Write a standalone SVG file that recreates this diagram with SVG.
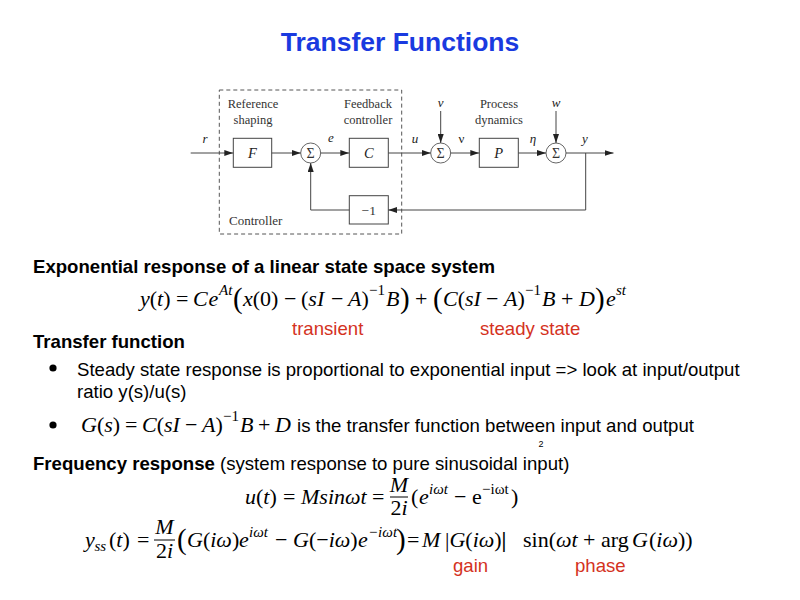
<svg xmlns="http://www.w3.org/2000/svg" width="800" height="600" viewBox="0 0 800 600">
<style>
.bg{fill:#fff}
.title{font-family:"Liberation Sans",Arial,sans-serif;font-size:26.5px;font-weight:bold;fill:#1a3ae0}
.t{font-family:"Liberation Sans",Arial,sans-serif;font-size:18.6px;fill:#000}
.b{font-weight:bold}
.red{fill:#d4321e}
.m{font-family:"Liberation Serif","DejaVu Serif",serif;font-size:22px;fill:#000}
.i{font-style:italic}
.sup{font-size:15px}
.big{font-size:29px}
.dl{font-family:"Liberation Serif","DejaVu Serif",serif;font-size:12.5px;fill:#333}
.sg{font-family:"Liberation Serif","DejaVu Serif",serif;font-size:14px;fill:#333}
.sig{font-family:"Liberation Serif","DejaVu Serif",serif;font-size:13px;font-style:italic;fill:#222}
.blk{font-family:"Liberation Serif","DejaVu Serif",serif;font-size:14.5px;font-style:italic;fill:#222}
.box{fill:none;stroke:#444;stroke-width:1}
.sum{fill:#fff;stroke:#555;stroke-width:0.9}
.wire{fill:none;stroke:#444;stroke-width:1}
.frac{stroke:#000;stroke-width:1}
</style>
<defs>
<marker id="arr" markerUnits="userSpaceOnUse" markerWidth="9" markerHeight="6" refX="9" refY="3" orient="auto">
<path d="M0,0 L9,3 L0,6 z" fill="#222"/>
</marker>
</defs>
<rect class="bg" x="0" y="0" width="800" height="600"/>
<text class="title" x="400" y="51" text-anchor="middle">Transfer Functions</text>

<g id="controller-frame">
<rect x="219.3" y="90" width="182.4" height="144" fill="none" stroke="#555" stroke-width="1" stroke-dasharray="4,3"/>
<text class="dl" x="229" y="225" style="font-size:13px">Controller</text>
</g>
<g id="label-reference"><text class="dl" x="253" y="108" text-anchor="middle">Reference</text><text class="dl" x="253" y="124" text-anchor="middle">shaping</text></g>
<g id="label-feedback"><text class="dl" x="368" y="108" text-anchor="middle">Feedback</text><text class="dl" x="368" y="124" text-anchor="middle">controller</text></g>
<g id="label-process"><text class="dl" x="499" y="108" text-anchor="middle">Process</text><text class="dl" x="499" y="124" text-anchor="middle">dynamics</text></g>

<g id="F"><rect class="box" x="233.3" y="138.3" width="38.4" height="29"/><text class="blk" x="252.5" y="158" text-anchor="middle">F</text></g>
<g id="sum1"><circle class="sum" cx="310.7" cy="153" r="10"/><text class="sg" x="310.7" y="158" text-anchor="middle">Σ</text></g>
<g id="C"><rect class="box" x="349.3" y="138.3" width="39" height="29"/><text class="blk" x="368.8" y="158" text-anchor="middle">C</text></g>
<g id="minus1"><rect class="box" x="349.3" y="195.7" width="39" height="28.3"/><text class="dl" x="368.8" y="214.5" text-anchor="middle" style="font-size:13.5px">−1</text></g>
<g id="sum2"><circle class="sum" cx="440.7" cy="153" r="10"/><text class="sg" x="440.7" y="158" text-anchor="middle">Σ</text></g>
<g id="P"><rect class="box" x="479.3" y="138.3" width="39" height="29"/><text class="blk" x="498.8" y="158" text-anchor="middle">P</text></g>
<g id="sum3"><circle class="sum" cx="556" cy="153" r="10"/><text class="sg" x="556" y="158" text-anchor="middle">Σ</text></g>

<g id="connectors">
<path class="wire" d="M190.7,153 H233.3" marker-end="url(#arr)"/>
<path class="wire" d="M271.7,153 H300.7" marker-end="url(#arr)"/>
<path class="wire" d="M320.7,153 H349.3" marker-end="url(#arr)"/>
<path class="wire" d="M388.3,153 H430.7" marker-end="url(#arr)"/>
<path class="wire" d="M440.7,111 V143" marker-end="url(#arr)"/>
<path class="wire" d="M450.7,153 H479.3" marker-end="url(#arr)"/>
<path class="wire" d="M556,111 V143" marker-end="url(#arr)"/>
<path class="wire" d="M518.3,153 H546" marker-end="url(#arr)"/>
<path class="wire" d="M566,153 H613.5" marker-end="url(#arr)"/>
<path class="wire" d="M585.7,153 V210 H388.3" marker-end="url(#arr)"/>
<path class="wire" d="M349.3,210 H310.7 V163" marker-end="url(#arr)"/>
<text class="sig" x="205" y="143" text-anchor="middle">r</text>
<text class="sig" x="331" y="142" text-anchor="middle">e</text>
<text class="sig" x="415" y="143" text-anchor="middle">u</text>
<text class="sig" x="440.7" y="107" text-anchor="middle">v</text>
<text class="sig" x="461.5" y="143" text-anchor="middle" style="font-style:normal">ν</text>
<text class="sig" x="533" y="143" text-anchor="middle">η</text>
<text class="sig" x="556" y="107" text-anchor="middle">w</text>
<text class="sig" x="585" y="143" text-anchor="middle">y</text>
</g>

<text class="t b" x="33" y="273">Exponential response of a linear state space system</text>
<text class="m" y="306"><tspan x="140"><tspan class="i">y</tspan>(<tspan class="i">t</tspan>)</tspan><tspan x="176">=</tspan><tspan x="193" class="i">C</tspan><tspan x="208.5" class="i">e</tspan><tspan x="219" y="295" class="i sup">At</tspan><tspan x="233" y="308" class="big">(</tspan><tspan x="243" y="306"><tspan class="i">x</tspan>(0)</tspan><tspan x="284">−</tspan><tspan x="301">(<tspan class="i">sI</tspan></tspan><tspan x="331">−</tspan><tspan x="348"><tspan class="i">A</tspan>)</tspan><tspan x="369" y="295" class="sup">−1</tspan><tspan x="386" y="306" class="i">B</tspan><tspan x="400" y="308" class="big">)</tspan><tspan x="415" y="306">+</tspan><tspan x="433" y="308" class="big">(</tspan><tspan x="443" y="306"><tspan class="i">C</tspan>(<tspan class="i">sI</tspan></tspan><tspan x="486">−</tspan><tspan x="504"><tspan class="i">A</tspan>)</tspan><tspan x="525" y="295" class="sup">−1</tspan><tspan x="542" y="306" class="i">B</tspan><tspan x="561">+</tspan><tspan x="579" class="i">D</tspan><tspan x="595" y="308" class="big">)</tspan><tspan x="606" y="306" class="i">e</tspan><tspan x="616" y="295" class="i sup">st</tspan></text>
<text class="t red" x="292" y="335">transient</text>
<text class="t red" x="480" y="335">steady state</text>

<text class="t b" x="33" y="348">Transfer function</text>
<circle cx="53" cy="368" r="3.6" fill="#000"/>
<text class="t" x="77" y="376">Steady state response is proportional to exponential input =&gt; look at input/output</text>
<text class="t" x="77" y="398">ratio y(s)/u(s)</text>
<circle cx="53" cy="425" r="3.6" fill="#000"/>
<text class="m" y="432"><tspan x="81"><tspan class="i">G</tspan>(<tspan class="i">s</tspan>)</tspan><tspan x="125">=</tspan><tspan x="142"><tspan class="i">C</tspan>(<tspan class="i">sI</tspan></tspan><tspan x="185">−</tspan><tspan x="202"><tspan class="i">A</tspan>)</tspan><tspan x="223" y="421" class="sup">−1</tspan><tspan x="240" y="432" class="i">B</tspan><tspan x="258">+</tspan><tspan x="275" class="i">D</tspan></text>
<text class="t" x="297" y="432">is the transfer function between input and output</text>
<text x="541" y="447" style="font-family:'Liberation Sans',Arial,sans-serif;font-size:9px" text-anchor="middle">2</text>

<text class="t" x="33" y="470"><tspan class="b">Frequency response</tspan> (system response to pure sinusoidal input)</text>
<text class="m" y="504"><tspan x="245"><tspan class="i">u</tspan>(<tspan class="i">t</tspan>)</tspan><tspan x="283">=</tspan><tspan x="301" class="i">Msinωt</tspan><tspan x="372">=</tspan><tspan x="411">(</tspan><tspan x="419" class="i">e</tspan><tspan x="429" y="494" class="i sup">iωt</tspan><tspan x="454" y="504">−</tspan><tspan x="472">e</tspan><tspan x="482" y="494" class="sup">−iωt</tspan><tspan x="511" y="504">)</tspan></text>
<text class="m i" x="399" y="492" text-anchor="middle">M</text>
<line class="frac" x1="390" y1="497" x2="408" y2="497"/>
<text class="m" x="399" y="515" text-anchor="middle">2<tspan class="i">i</tspan></text>

<text class="m" y="547"><tspan x="85" class="i">y</tspan><tspan x="94.5" y="551" class="i sup">ss</tspan><tspan x="109" y="547">(<tspan class="i">t</tspan>)</tspan><tspan x="137">=</tspan><tspan x="177" y="549" class="big">(</tspan><tspan x="187" y="547"><tspan class="i">G</tspan>(<tspan class="i">iω</tspan>)</tspan><tspan x="239" class="i">e</tspan><tspan x="249" y="537" class="i sup">iωt</tspan><tspan x="275" y="547">−</tspan><tspan x="293"><tspan class="i">G</tspan>(−<tspan class="i">iω</tspan>)</tspan><tspan x="358" class="i">e</tspan><tspan x="368" y="537" class="i sup">−iωt</tspan><tspan x="396" y="549" class="big">)</tspan><tspan x="407" y="547">=</tspan><tspan x="422" class="i">M</tspan><tspan x="445">|<tspan class="i">G</tspan>(<tspan class="i">iω</tspan>)<tspan style="font-weight:bold">|</tspan></tspan><tspan x="523">sin(<tspan class="i">ωt</tspan></tspan><tspan x="583">+</tspan><tspan x="601">arg</tspan><tspan x="632" class="i">G</tspan><tspan x="649">(<tspan class="i">iω</tspan>))</tspan></text>
<text class="m i" x="164.5" y="534" text-anchor="middle">M</text>
<line class="frac" x1="154" y1="540" x2="175" y2="540"/>
<text class="m" x="164.5" y="558" text-anchor="middle">2<tspan class="i">i</tspan></text>
<text class="t red" x="453" y="572">gain</text>
<text class="t red" x="575" y="572">phase</text>
</svg>
